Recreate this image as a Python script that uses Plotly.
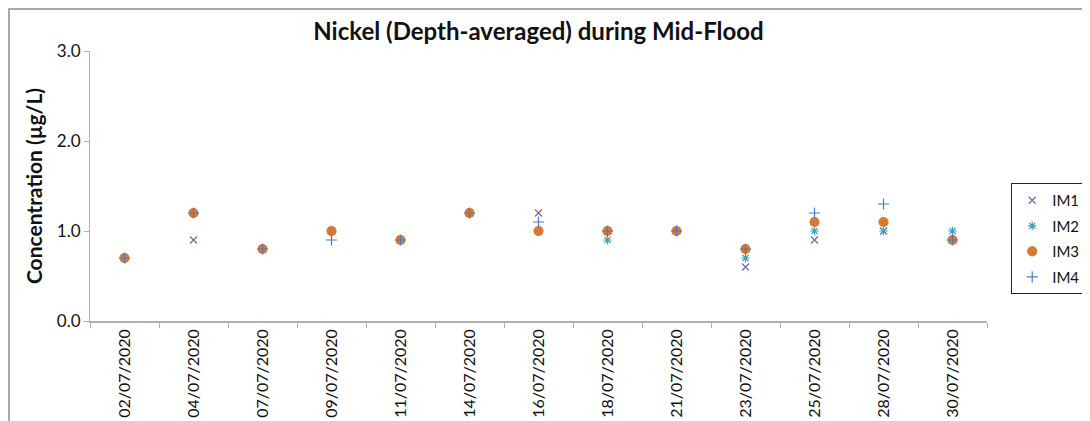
import plotly.graph_objects as go

# sampling dates (category axis)
dates = ['02/07/2020', '04/07/2020', '07/07/2020', '09/07/2020', '11/07/2020',
         '14/07/2020', '16/07/2020', '18/07/2020', '21/07/2020', '23/07/2020',
         '25/07/2020', '28/07/2020', '30/07/2020']

# depth-averaged nickel, ug/L
im1 = [0.7, 0.9, 0.8, 1.0, 0.9, 1.2, 1.2, 1.0, 1.0, 0.6, 0.9, 1.0, 0.9]
im2 = [0.7, 1.2, 0.8, 1.0, 0.9, 1.2, 1.0, 0.9, 1.0, 0.7, 1.0, 1.0, 1.0]
im3 = [0.7, 1.2, 0.8, 1.0, 0.9, 1.2, 1.0, 1.0, 1.0, 0.8, 1.1, 1.1, 0.9]
im4 = [0.7, 1.2, 0.8, 0.9, 0.9, 1.2, 1.1, 1.0, 1.0, 0.8, 1.2, 1.3, 0.9]

font_family = 'Lato, Open Sans, sans-serif'

fig = go.Figure()

series = [
    ('IM1', im1, 'x-thin-open', '#7E62A1', 7),
    ('IM2', im2, 'asterisk-open', '#3DA3B8', 7),
    ('IM3', im3, 'circle', '#D9782F', 9),
    ('IM4', im4, 'cross-thin-open', '#4A7CC0', 8),
]

for name, vals, sym, col, sz in series:
    fig.add_trace(
        go.Scatter(x=dates, y=vals, mode='markers', name=name, legendgroup=name,
                   marker=dict(symbol=sym, color=col, size=sz,
                               line=dict(color=col, width=1.2)))
    )

# chart-area border (only top and left visible in the crop)
# the page body adds an 8px offset, so put it right at the figure's edge
fig.add_shape(type='rect', xref='paper', yref='paper',
              x0=(1 - 82) / 897, x1=1.3, y0=-0.6, y1=1 + (43 - 1) / 270,
              line=dict(color='#8c8c8c', width=1.5), layer='below')

fig.update_layout(
    width=1090, height=421,
    paper_bgcolor='white', plot_bgcolor='white',
    margin=dict(l=82, r=111, t=43, b=108, autoexpand=False),
    font=dict(family=font_family, color='#111'),
    title=dict(text='<b>Nickel (Depth-averaged) during Mid-Flood</b>',
               x=0.5, xanchor='center', xref='paper', y=0.945, yanchor='middle',
               font=dict(size=24, color='#111')),
    showlegend=True,
    legend=dict(x=1.027, xanchor='left', y=0.511, yanchor='top',
                bordercolor='#222', borderwidth=1, bgcolor='white',
                font=dict(size=15, color='#111'), traceorder='grouped',
                itemsizing='trace', itemwidth=30, tracegroupgap=3),
)

fig.update_xaxes(
    type='category', range=[-0.5, 12.5],
    showgrid=False, showline=True, linecolor='#b0b0b0', linewidth=1.5,
    ticks='outside', tickson='boundaries', ticklen=5, tickcolor='#b0b0b0',
    tickangle=-90, tickfont=dict(size=16, color='#111'),
)

fig.update_yaxes(
    range=[0, 3], tickvals=[0, 1, 2, 3], tickformat='.1f', ticksuffix=' ',
    showgrid=False, zeroline=False, showline=True, linecolor='#b0b0b0', linewidth=1,
    ticks='outside', ticklen=5, tickcolor='#b0b0b0',
    tickfont=dict(size=17, color='#111'),
    title=dict(text='<b>Concentration (µg/L)</b>', font=dict(size=21, color='#111'),
               standoff=8),
)

fig.write_html("out.html")
